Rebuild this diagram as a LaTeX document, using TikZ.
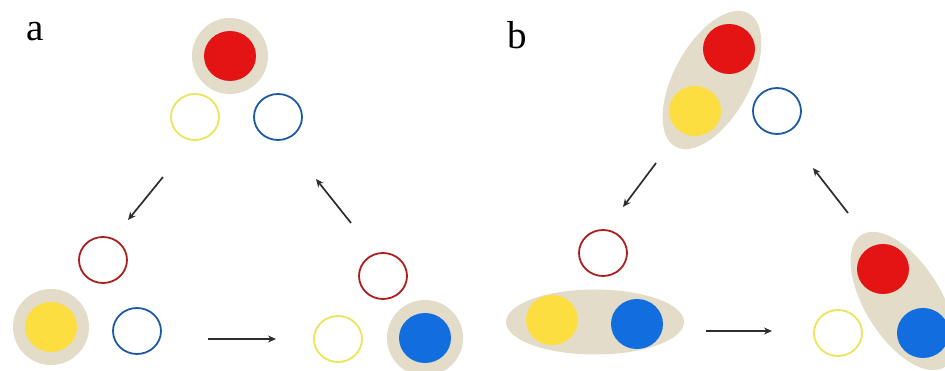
\documentclass[tikz,border=0pt]{standalone}
\usepackage{fontspec}
\setmainfont{Liberation Serif}
\usetikzlibrary{shapes.geometric,arrows.meta}
\definecolor{beige}{RGB}{226,220,200}
\definecolor{cred}{RGB}{228,20,20}
\definecolor{cyel}{RGB}{253,222,64}
\definecolor{cblu}{RGB}{18,110,222}
\definecolor{rred}{RGB}{172,30,30}
\definecolor{ryel}{RGB}{236,228,90}
\definecolor{rblu}{RGB}{30,90,160}
\definecolor{arr}{RGB}{45,45,45}
\begin{document}
\begin{tikzpicture}[x=1pt,y=1pt,
  halo/.style={circle, fill=beige, minimum size=76pt, inner sep=0pt},
  dot/.style={ellipse, fill=#1, minimum width=52pt, minimum height=50pt, inner sep=0pt},
  ring/.style={ellipse, draw=#1, line width=1.8pt, minimum width=48pt, minimum height=46pt, inner sep=0pt},
  pair/.style={ellipse, fill=beige, inner sep=0pt},
  flow/.style={draw=arr, line width=1.7pt, -{Stealth[length=8pt,width=7pt]}},
  lab/.style={font=\fontsize{39}{39}\selectfont, inner sep=0pt}]
\useasboundingbox (0,0) rectangle (945,371);
\clip (0,0) rectangle (945,371);
% panel a
\node[lab] (la) at (35,339) {a};
\node[halo] (ah1) at (230,315) {};
\node[dot=cred] (ar1) at (230,315) {};
\node[ring=ryel] (ay1) at (195,254) {};
\node[ring=rblu] (ab1) at (278,254) {};
\node[ring=rred] (ar2) at (103,111) {};
\node[halo] (ah2) at (51,44) {};
\node[dot=cyel] (ay2) at (51,44) {};
\node[ring=rblu] (ab2) at (137,40) {};
\node[ring=rred] (ar3) at (383,95) {};
\node[ring=ryel] (ay3) at (338,32) {};
\node[halo] (ah3) at (425,33) {};
\node[dot=cblu] (ab3) at (425,33) {};
\coordinate (a1s) at (163,194); \coordinate (a1e) at (128,151);
\coordinate (a2s) at (351,148); \coordinate (a2e) at (316,192);
\coordinate (a3s) at (208,32);  \coordinate (a3e) at (276,32);
\draw[flow] (a1s) -- (a1e);
\draw[flow] (a2s) -- (a2e);
\draw[flow] (a3s) -- (a3e);
% panel b
\node[lab] (lb) at (517,336) {b};
\node[pair, minimum width=152pt, minimum height=76pt, rotate=61.3] (bp1) at (712,291) {};
\node[dot=cred] (br1) at (729,322) {};
\node[dot=cyel] (by1) at (695,260) {};
\node[ring=rblu] (bb1) at (777,260) {};
\node[ring=rred] (br2) at (603,118) {};
\node[pair, minimum width=178pt, minimum height=65pt] (bp2) at (595,49) {};
\node[dot=cyel] (by2) at (552,51) {};
\node[dot=cblu] (bb2) at (637,47) {};
\node[ring=ryel] (by3) at (838,38) {};
\node[pair, minimum width=156pt, minimum height=76pt, rotate=-58] (bp3) at (903,70) {};
\node[dot=cred] (br3) at (883,102) {};
\node[dot=cblu] (bb3) at (923,38) {};
\coordinate (b1s) at (656,208); \coordinate (b1e) at (623,164);
\coordinate (b2s) at (848,158); \coordinate (b2e) at (813,203);
\coordinate (b3s) at (706,40);  \coordinate (b3e) at (772,40);
\draw[flow] (b1s) -- (b1e);
\draw[flow] (b2s) -- (b2e);
\draw[flow] (b3s) -- (b3e);
\end{tikzpicture}
\end{document}
